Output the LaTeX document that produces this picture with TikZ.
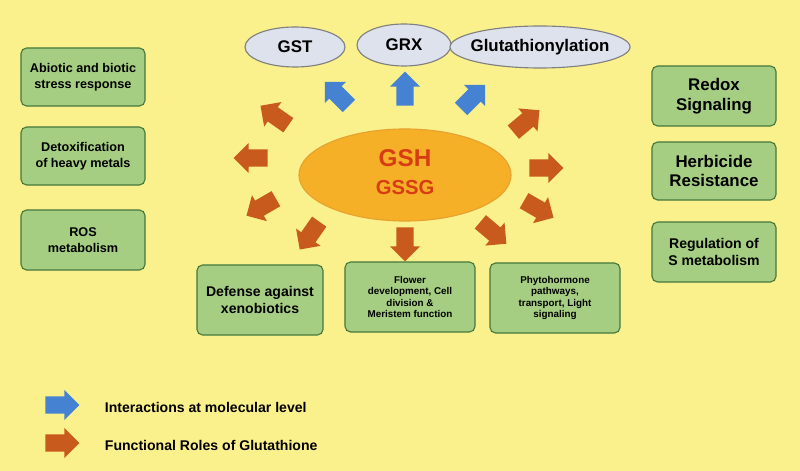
\documentclass[tikz,border=0pt]{standalone}
\usepackage{fontspec}
\setmainfont{Liberation Sans}
\usetikzlibrary{shapes.geometric,shapes.arrows}
\definecolor{bgyellow}{RGB}{250,240,140}
\definecolor{boxgreen}{RGB}{166,206,130}
\definecolor{boxline}{RGB}{70,120,60}
\definecolor{gshorange}{RGB}{246,176,40}
\definecolor{gshred}{RGB}{215,60,20}
\definecolor{ovalblue}{RGB}{222,226,236}
\definecolor{arrblue}{RGB}{70,130,210}
\definecolor{arrorange}{RGB}{200,90,30}
\tikzset{
  box/.style={draw=boxline, fill=boxgreen, rounded corners=4pt, thick, align=center, font=\bfseries},
  oval/.style={draw=gray, fill=ovalblue, ellipse, thick, font=\large\bfseries, inner sep=0pt},
  blk/.style={single arrow, minimum height=0.85cm, minimum width=0.75cm, single arrow head extend=0.12cm, inner xsep=0pt, inner ysep=0.16cm, draw=none},
  barrow/.style={blk, fill=arrblue},
  oarrow/.style={blk, fill=arrorange}
}
\begin{document}
\begin{tikzpicture}[x=0.025cm,y=-0.025cm]
\fill[bgyellow] (0,0) rectangle (800,471);
\useasboundingbox (0,0) rectangle (800,471);

\node[draw=gshorange!70!brown, fill=gshorange, ellipse, minimum width=5.3cm, minimum height=2.3cm, thick] (gsh) at (405,175) {};
\node[text=gshred, font=\LARGE\bfseries] (gshtxt) at (405,158) {GSH};
\node[text=gshred, font=\Large\bfseries] (gssg) at (405,188) {GSSG};

\node[oval, minimum width=2.5cm, minimum height=1cm] (gst) at (295,47) {GST};
\node[oval, minimum width=2.35cm, minimum height=1.05cm] (grx) at (404,45) {GRX};
\node[oval, minimum width=4.5cm, minimum height=1.05cm, inner xsep=-12pt] (glu) at (540,47) {Glutathionylation};

\node[box, minimum width=3.1cm, minimum height=1.45cm, font=\small\bfseries] (abio) at (83,77) {Abiotic and biotic\\stress response};
\node[box, minimum width=3.1cm, minimum height=1.45cm, font=\small\bfseries] (detox) at (83,156) {Detoxification\\of heavy metals};
\node[box, minimum width=3.1cm, minimum height=1.5cm, font=\small\bfseries] (ros) at (83,240) {ROS\\metabolism};

\node[box, minimum width=3.1cm, minimum height=1.5cm, font=\large\bfseries] (redox) at (714,96) {Redox\\Signaling};
\node[box, minimum width=3.1cm, minimum height=1.45cm, font=\large\bfseries] (herb) at (714,171) {Herbicide\\Resistance};
\node[box, minimum width=3.1cm, minimum height=1.5cm, font=\bfseries] (sulf) at (714,252) {Regulation of\\S metabolism};

\node[box, minimum width=3.15cm, minimum height=1.75cm, font=\bfseries] (xeno) at (260,300) {Defense against\\xenobiotics};
\node[box, minimum width=3.25cm, minimum height=1.75cm, font=\scriptsize\bfseries] (flow) at (410,297) {Flower\\development, Cell\\division \&\\Meristem function};
\node[box, minimum width=3.25cm, minimum height=1.75cm, font=\scriptsize\bfseries] (phyto) at (555,298) {Phytohormone\\pathways,\\transport, Light\\signaling};

% interactions
\node[barrow, rotate=135] (b1) at (340,97) {};
\node[barrow, rotate=90] (b2) at (405,93) {};
\node[barrow, rotate=45] (b3) at (470,100) {};

% functional roles
\node[oarrow, rotate=145] (o1) at (278,118) {};
\node[oarrow, rotate=180] (o2) at (255,158) {};
\node[oarrow, rotate=210] (o3) at (265,205) {};
\node[oarrow, rotate=235] (o4) at (312,232) {};
\node[oarrow, rotate=270] (o5) at (405,240) {};
\node[oarrow, rotate=320] (o6) at (490,230) {};
\node[oarrow, rotate=330] (o7) at (535,207) {};
\node[oarrow, rotate=0] (o8) at (542,168) {};
\node[oarrow, rotate=40] (o9) at (523,124) {};

% legend
\node[barrow] (lb) at (58,405) {};
\node[anchor=west, font=\bfseries] (lbt) at (100,407) {Interactions at molecular level};
\node[oarrow] (lo) at (58,443) {};
\node[anchor=west, font=\bfseries] (lot) at (100,445) {Functional Roles of Glutathione};
\end{tikzpicture}
\end{document}
